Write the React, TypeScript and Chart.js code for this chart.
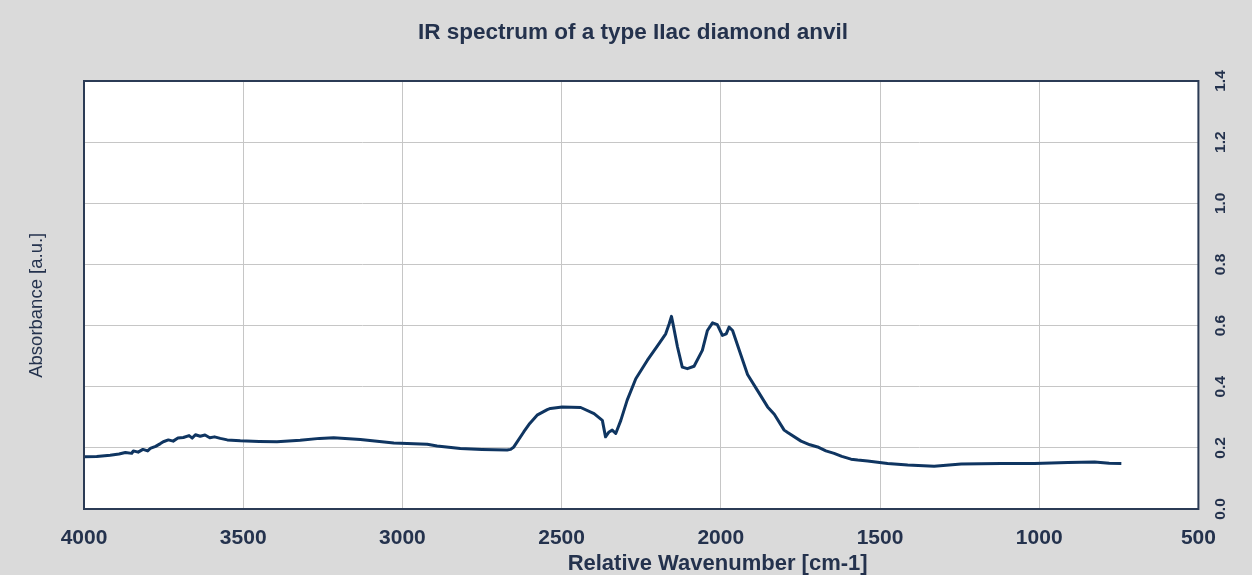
import React, { useEffect, useRef } from "react";
import { Chart, registerables } from "chart.js";

Chart.register(...registerables);

const chartTitle = "IR spectrum of a type IIac diamond anvil";
const xAxisTitle = "Relative Wavenumber [cm-1]";
const yAxisTitle = "Absorbance [a.u.]";

const xTicks = [4000, 3500, 3000, 2500, 2000, 1500, 1000, 500];
const yTicks = [0.0, 0.2, 0.4, 0.6, 0.8, 1.0, 1.2, 1.4];

const wavenumber = [
  4000, 3960, 3918, 3890, 3870, 3850, 3845, 3830, 3815, 3800, 3792, 3775, 3760,
  3751, 3735, 3720, 3705, 3688, 3670, 3660, 3650, 3635, 3620, 3605, 3590, 3572,
  3550, 3509, 3450, 3394, 3321, 3260, 3216, 3132, 3027, 2922, 2891, 2818, 2750,
  2671, 2660, 2650, 2619, 2600, 2577, 2545, 2535, 2498, 2440, 2398, 2372, 2362,
  2351, 2341, 2330, 2314, 2294, 2267, 2231, 2194, 2173, 2162, 2155, 2149, 2136,
  2121, 2105, 2084, 2058, 2042, 2026, 2011, 1995, 1983, 1974, 1963, 1942, 1916,
  1885, 1853, 1832, 1801, 1790, 1748, 1720, 1696, 1670, 1644, 1620, 1591, 1570,
  1539, 1476, 1413, 1330, 1245, 1120, 1015, 910, 826, 780, 742,
];

const absorbance = [
  0.171, 0.172, 0.176, 0.18, 0.185, 0.182, 0.19, 0.186, 0.195, 0.19, 0.198,
  0.205, 0.214, 0.22, 0.226, 0.222, 0.232, 0.234, 0.24, 0.232, 0.243, 0.238,
  0.242, 0.233, 0.236, 0.231, 0.226, 0.223, 0.221, 0.22, 0.225, 0.231, 0.233,
  0.227, 0.216, 0.212, 0.206, 0.198, 0.195, 0.193, 0.195, 0.203, 0.252, 0.28,
  0.307, 0.325, 0.329, 0.334, 0.332, 0.312, 0.29, 0.236, 0.252, 0.258, 0.247,
  0.29, 0.356, 0.426, 0.486, 0.541, 0.573, 0.606, 0.63, 0.6, 0.53, 0.464, 0.459,
  0.467, 0.519, 0.584, 0.609, 0.603, 0.568, 0.573, 0.595, 0.584, 0.519, 0.44,
  0.388, 0.334, 0.31, 0.258, 0.25, 0.222, 0.21, 0.203, 0.19, 0.182, 0.172,
  0.163, 0.16, 0.157, 0.149, 0.144, 0.14, 0.147, 0.149, 0.149, 0.152, 0.154,
  0.15, 0.149,
];

const TEXT = "#24324d";
const LINE = "#0f3561";
const GRID = "#c6c6c6";
const BG = "#dadada";
const SANS = "'Liberation Sans', Arial, sans-serif";

const framePlugin = {
  id: "frame",
  beforeDraw(chart: any) {
    const { ctx, chartArea } = chart;
    ctx.save();
    ctx.fillStyle = BG;
    ctx.fillRect(0, 0, chart.width, chart.height);
    ctx.fillStyle = "#ffffff";
    ctx.fillRect(chartArea.left, chartArea.top, chartArea.right - chartArea.left, chartArea.bottom - chartArea.top);
    ctx.restore();
  },
  afterDraw(chart: any) {
    const { ctx, chartArea } = chart;
    ctx.save();
    ctx.strokeStyle = "#2b3b55";
    ctx.lineWidth = 2;
    ctx.strokeRect(chartArea.left, chartArea.top, chartArea.right - chartArea.left, chartArea.bottom - chartArea.top);
    ctx.restore();
  },
};

export default function App() {
  const ref = useRef<HTMLCanvasElement | null>(null);

  useEffect(() => {
    if (!ref.current) return;
    const points = wavenumber.map((x, i) => ({ x, y: absorbance[i] }));
    const chart = new Chart(ref.current, {
      type: "line",
      data: {
        datasets: [
          {
            data: points,
            borderColor: LINE,
            borderWidth: 3,
            pointRadius: 0,
            tension: 0,
            borderJoinStyle: "round",
            yAxisID: "y",
          },
        ],
      },
      options: {
        responsive: false,
        animation: false,
        parsing: false as any,
        layout: { padding: { left: 0, right: 11, top: 0, bottom: 0 } },
        plugins: {
          legend: { display: false },
          tooltip: { enabled: false },
          title: {
            display: true,
            text: "    " + chartTitle,
            color: TEXT,
            font: { family: SANS, size: 22.5, weight: "bold", lineHeight: 1.2 },
            padding: { top: 19, bottom: 35 },
          },
        },
        scales: {
          x: {
            type: "linear",
            position: "bottom",
            reverse: true,
            min: 500,
            max: 4000,
            afterBuildTicks: (axis: any) => {
              axis.ticks = xTicks.map((v) => ({ value: v }));
            },
            ticks: {
              color: TEXT,
              padding: 19,
              font: { family: SANS, size: 21, weight: "bold", lineHeight: 1 },
              callback: (v: any) => String(v),
              maxRotation: 0,
              autoSkip: false,
            },
            grid: { color: GRID, lineWidth: 1, drawTicks: false },
            border: { display: false },
            title: {
              display: true,
              text: " ".repeat(25) + xAxisTitle,
              color: TEXT,
              font: { family: SANS, size: 22, weight: "bold", lineHeight: 1 },
              padding: { top: -15, bottom: 0 },
            },
          },
          y: {
            type: "linear",
            position: "right",
            min: 0,
            max: 1.4,
            afterBuildTicks: (axis: any) => {
              axis.ticks = yTicks.map((v) => ({ value: v }));
            },
            ticks: {
              color: TEXT,
              padding: 12,
              minRotation: 90,
              maxRotation: 90,
              crossAlign: "center",
              font: { family: SANS, size: 15.5, weight: "bold", lineHeight: 1.2 },
              callback: (v: any) => Number(v).toFixed(1),
            },
            grid: { color: GRID, lineWidth: 1, drawTicks: false },
            border: { display: false },
          },
          yLeft: {
            type: "linear",
            position: "left",
            min: 0,
            max: 1.4,
            ticks: { display: false },
            grid: { display: false, drawTicks: false },
            border: { display: false },
            title: {
              display: true,
              text: yAxisTitle + "    ",
              color: TEXT,
              font: { family: SANS, size: 18.5, weight: "normal", lineHeight: 1 },
              padding: { top: 28, bottom: 37.5 },
            },
          },
        },
      },
      plugins: [framePlugin],
    } as any);
    return () => chart.destroy();
  }, []);

  return (
    <div style={{ position: "absolute", left: 0, top: 0, width: 1252, height: 575, background: BG }}>
      <canvas ref={ref} width={1252} height={575} style={{ display: "block" }} />
    </div>
  );
}
